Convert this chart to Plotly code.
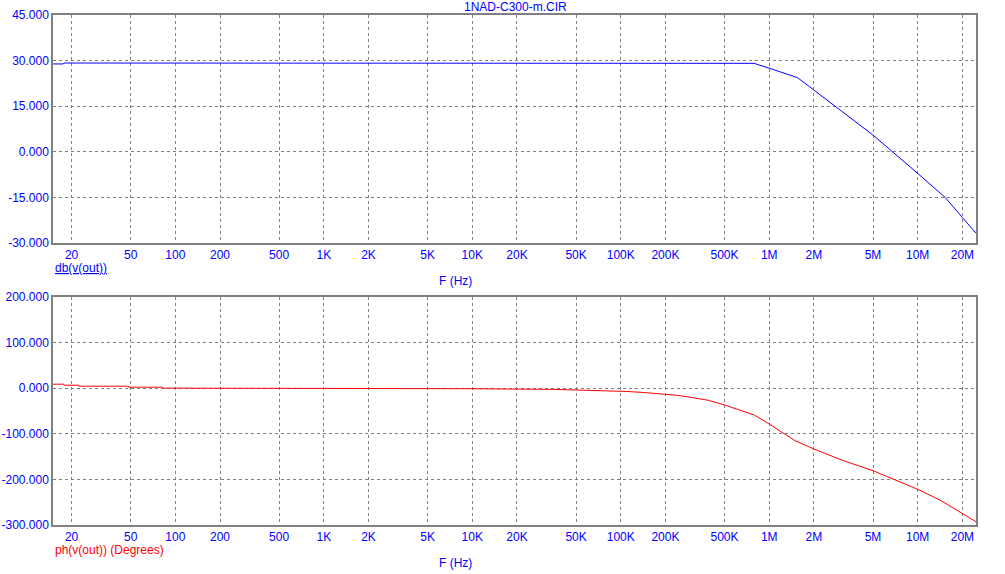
import math
import plotly.graph_objects as go

# ---- data ----
freq_db = [15, 17.6, 17.8, 1e5, 5e5, 7.9e5, 1e6, 1.55e6, 2e6, 3e6, 5e6, 1e7, 1.53e7, 2e7, 2.47e7]
db_vals = [28.9, 28.9, 29.2, 29.2, 29.2, 29.1, 27.5, 24.4, 20.3, 13.7, 5.5, -7.1, -15.0, -21.6, -26.8]

freq_ph = [15, 17.7, 17.8, 22.3, 22.4, 48.4, 48.5, 82, 83, 8.7e3, 8.8e3, 35e3, 70e3, 110e3,
           140e3, 176e3, 204e3, 238e3, 292e3, 341e3, 388e3, 500e3, 792e3, 1e6, 1.49e6, 2e6,
           3.16e6, 5e6, 6.85e6, 1e7, 1.41e7, 2e7, 2.47e7]
ph_vals = [8.8, 8.8, 6.6, 6.6, 4.4, 4.4, 2.2, 2.2, 0.2, 0.2, -1.1, -2.5, -4.6, -7.2,
           -9.2, -11.5, -13.2, -15.4, -19.7, -23.0, -26.5, -36.8, -58.8, -78.5, -115.1, -133.3,
           -159.0, -180.9, -199.8, -221.7, -245.2, -275.9, -292.7]

x_tickvals = [20, 50, 100, 200, 500, 1e3, 2e3, 5e3, 1e4, 2e4, 5e4, 1e5, 2e5, 5e5, 1e6, 2e6, 5e6, 1e7, 2e7]
x_ticktext = ["20", "50", "100", "200", "500", "1K", "2K", "5K", "10K", "20K", "50K", "100K",
              "200K", "500K", "1M", "2M", "5M", "10M", "20M"]

db_ticks = [45, 30, 15, 0, -15, -30]
ph_ticks = [200, 100, 0, -100, -200, -300]

W, H = 1005, 574
FONT = "Arial, Liberation Sans, sans-serif"
BLUE = "#0000ff"
RED = "#ff0000"
GRID = "#808080"

def px(x):
    return x / W

def py(y):
    return 1 - y / H

fig = go.Figure()
fig.add_trace(go.Scatter(x=freq_db, y=db_vals, mode="lines", line=dict(color=BLUE, width=1),
                         xaxis="x", yaxis="y", showlegend=False))
fig.add_trace(go.Scatter(x=freq_ph, y=ph_vals, mode="lines", line=dict(color=RED, width=1),
                         xaxis="x2", yaxis="y2", showlegend=False))

xr = [math.log10(15), math.log10(2.47e7)]
xcommon = dict(type="log", range=xr, domain=[px(53), px(976)], tickvals=x_tickvals,
               ticktext=x_ticktext, showgrid=True, gridcolor=GRID, griddash="3px,3px", gridwidth=1,
               showline=True, linecolor=GRID, linewidth=1.5, mirror=True, ticks="",
               automargin=False,
               tickfont=dict(family=FONT, size=12, color=BLUE), zeroline=False)
ycommon = dict(showgrid=True, gridcolor=GRID, griddash="3px,3px", gridwidth=1,
               showline=True, linecolor=GRID, linewidth=1.5, mirror=True,
               ticks="", zeroline=False, automargin=False,
               tickfont=dict(family=FONT, size=12, color=BLUE))
fig.update_layout(
    xaxis=dict(xcommon, anchor="y"),
    xaxis2=dict(xcommon, anchor="y2"),
    yaxis=dict(ycommon, range=[-30, 45], domain=[py(243), py(15)], tickvals=db_ticks,
               ticktext=[f"{v:.3f}" for v in db_ticks], anchor="x"),
    yaxis2=dict(ycommon, range=[-300, 200], domain=[py(525), py(297)], tickvals=ph_ticks,
                ticktext=[f"{v:.3f}" for v in ph_ticks], anchor="x2"),
    width=W, height=H,
    margin=dict(l=0, r=0, t=0, b=0, autoexpand=False),
    paper_bgcolor="white", plot_bgcolor="white",
    font=dict(family=FONT, size=12, color=BLUE),
    annotations=[
        dict(text="1NAD-C300-m.CIR", x=px(515), y=py(7), xref="paper", yref="paper",
             xanchor="center", yanchor="middle", showarrow=False,
             font=dict(family=FONT, size=12, color=BLUE)),
        dict(text="<u>db(v(out))</u>", x=px(53), y=py(268), xref="paper", yref="paper",
             xanchor="left", yanchor="middle", showarrow=False,
             font=dict(family=FONT, size=12, color=BLUE)),
        dict(text="F (Hz)", x=px(455), y=py(281), xref="paper", yref="paper",
             xanchor="center", yanchor="middle", showarrow=False,
             font=dict(family=FONT, size=12, color=BLUE)),
        dict(text="ph(v(out)) (Degrees)", x=px(53), y=py(550), xref="paper", yref="paper",
             xanchor="left", yanchor="middle", showarrow=False,
             font=dict(family=FONT, size=12, color=RED)),
        dict(text="F (Hz)", x=px(455), y=py(563), xref="paper", yref="paper",
             xanchor="center", yanchor="middle", showarrow=False,
             font=dict(family=FONT, size=12, color=BLUE)),
    ],
)

fig.write_html("out.html", config={"displayModeBar": False},
               post_script="document.body.style.margin='0';document.body.style.overflow='hidden';")
